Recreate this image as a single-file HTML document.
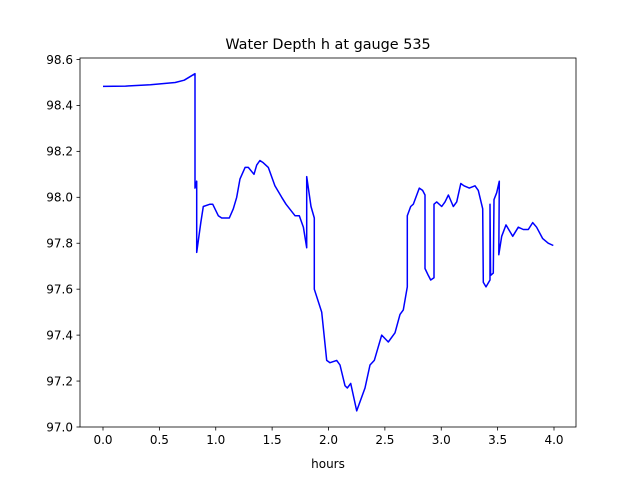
<!DOCTYPE html>
<html><head><meta charset="utf-8"><style>
body{margin:0;background:#fff;}
svg text{font-family:"DejaVu Sans","Liberation Sans",sans-serif;}
</style></head><body>
<svg id="chart" width="640" height="480" viewBox="0 0 640 480" xmlns="http://www.w3.org/2000/svg">
<rect width="640" height="480" fill="#fff"/>
<text x="328" y="49" text-anchor="middle" font-size="14.4" fill="#000">Water Depth h at gauge 535</text>
<g id="plot"></g>
<text x="328" y="468" text-anchor="middle" font-size="12" fill="#000">hours</text>
</svg>
<script>
const hours=[0,0.2,0.42,0.64,0.72,0.816,0.816,0.831,0.831,0.867,0.890,0.949,0.973,1.023,1.053,1.082,1.120,1.156,1.186,1.215,1.260,1.289,1.339,1.363,1.392,1.422,1.466,1.525,1.585,1.623,1.703,1.741,1.777,1.807,1.807,1.845,1.874,1.874,1.940,1.984,2.013,2.073,2.102,2.146,2.167,2.197,2.250,2.324,2.368,2.406,2.472,2.530,2.590,2.634,2.663,2.699,2.699,2.729,2.752,2.805,2.835,2.856,2.856,2.885,2.906,2.936,2.936,2.960,3.004,3.033,3.063,3.107,3.137,3.173,3.202,3.249,3.299,3.329,3.368,3.373,3.397,3.432,3.432,3.438,3.462,3.468,3.492,3.515,3.510,3.536,3.574,3.634,3.683,3.728,3.772,3.811,3.846,3.900,3.949,3.994];
const depth=[98.483,98.484,98.49,98.50,98.51,98.538,98.04,98.07,97.76,97.89,97.96,97.97,97.97,97.92,97.91,97.91,97.91,97.95,98.00,98.08,98.13,98.13,98.10,98.14,98.16,98.15,98.13,98.05,98.00,97.97,97.92,97.92,97.87,97.78,98.09,97.96,97.91,97.60,97.50,97.29,97.28,97.29,97.27,97.18,97.17,97.19,97.07,97.17,97.27,97.29,97.40,97.37,97.41,97.49,97.51,97.61,97.92,97.96,97.97,98.04,98.03,98.01,97.69,97.66,97.64,97.65,97.97,97.98,97.96,97.98,98.01,97.96,97.98,98.06,98.05,98.04,98.05,98.03,97.95,97.63,97.61,97.64,97.97,97.66,97.67,97.99,98.02,98.07,97.75,97.83,97.88,97.83,97.87,97.86,97.86,97.89,97.87,97.82,97.80,97.79];
const xTicks=[0,0.5,1,1.5,2,2.5,3,3.5,4];
const xTickLabels=["0.0","0.5","1.0","1.5","2.0","2.5","3.0","3.5","4.0"];
const yTicks=[97.0,97.2,97.4,97.6,97.8,98.0,98.2,98.4,98.6];
const yTickLabels=["97.0","97.2","97.4","97.6","97.8","98.0","98.2","98.4","98.6"];

const L=80,R=576,T=58,B=427;
function xs(v){return 103+v*112.75;}
function ys(v){return 427-(v-97)*229.7;}
const NS="http://www.w3.org/2000/svg";
const g=document.getElementById('plot');
function mk(tag,attrs){const e=document.createElementNS(NS,tag);for(const k in attrs)e.setAttribute(k,attrs[k]);g.appendChild(e);return e;}

const pts=hours.map((h,i)=>xs(h).toFixed(1)+","+ys(depth[i]).toFixed(1)).join(" ");
const line=mk('polyline',{points:pts,fill:'none',stroke:'#0000ff','stroke-width':1.5,'stroke-linejoin':'round'});



xTicks.forEach((t,i)=>{
  const x=xs(t);
  const tk=mk('line',{x1:x,x2:x,y1:B,y2:B+3.5,stroke:'#000','stroke-width':0.8});
  
  
  const tx=mk('text',{x:x,y:B+17,'text-anchor':'middle','font-size':12,fill:'#000'});
  tx.textContent=xTickLabels[i];
  
  
});
yTicks.forEach((t,i)=>{
  const y=ys(t);
  const tk=mk('line',{x1:L-3.5,x2:L,y1:y,y2:y,stroke:'#000','stroke-width':0.8});
  
  
  const tx=mk('text',{x:L-7,y:y+4.3,'text-anchor':'end','font-size':12,fill:'#000'});
  tx.textContent=yTickLabels[i];
  
  
});
const frame=mk('rect',{x:L,y:T,width:R-L,height:B-T,fill:'none',stroke:'#000','stroke-width':0.8});


</script>
</body></html>
